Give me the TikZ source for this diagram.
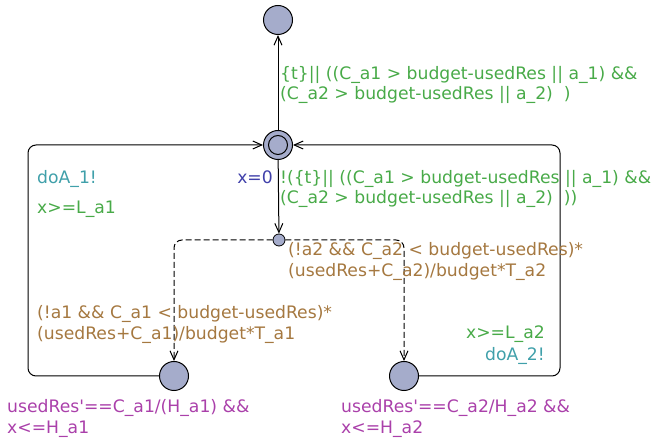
\documentclass[tikz,border=0pt]{standalone}
\usepackage{fontspec}
\setmainfont{DejaVu Sans}
\usetikzlibrary{arrows.meta}
\definecolor{locfill}{RGB}{165,172,203}
\definecolor{guardc}{RGB}{72,170,72}
\definecolor{syncc}{RGB}{64,160,170}
\definecolor{assignc}{RGB}{64,64,170}
\definecolor{probc}{RGB}{165,120,64}
\definecolor{invc}{RGB}{170,64,170}
\begin{document}
\begin{tikzpicture}[x=1pt,y=-1pt,
  loc/.style={circle,draw,fill=locfill,minimum size=29pt,inner sep=0pt,line width=1pt},
  inner/.style={circle,draw,minimum size=19pt,inner sep=0pt,line width=1pt},
  branchpt/.style={circle,draw,fill=locfill,minimum size=12pt,inner sep=0pt,line width=0.8pt},
  edge/.style={line width=1pt,-{Straight Barb[length=9pt,width=8pt]}},
  probedge/.style={edge,dash pattern=on 6pt off 3pt},
  lab/.style={anchor=base west,inner sep=0pt,font=\fontsize{17.2}{20}\selectfont},
  labr/.style={lab,anchor=base east}]
\useasboundingbox (0,0) rectangle (654,438);

% locations
\node[loc] (top) at (278,20) {};
\node[loc] (init) at (278,145) {};
\node[inner] (initin) at (278,145) {};
\node[branchpt] (br) at (279,240) {};
\node[loc] (l1) at (174,376) {};
\node[loc] (l2) at (404,376) {};
\coordinate (lc) at (28,145);
\coordinate (rc) at (560,145);

% edges
\draw[edge] (init) -- (top);
\draw[edge] (init) -- (br);
\draw[edge,rounded corners=8pt] (l1.west) -| (lc) -- (init.west);
\draw[edge,rounded corners=8pt] (l2.east) -| (rc) -- (init.east);
\draw[probedge,rounded corners=8pt] (br.west) -| (l1.north);
\draw[probedge,rounded corners=8pt] (br.east) -| (l2.north);

% labels
\node[lab,text=guardc] (g1a) at (280,80) {\{t\}|| ((C\_a1 > budget-usedRes || a\_1) \&\&};
\node[lab,text=guardc] (g1b) at (280,100) {(C\_a2 > budget-usedRes || a\_2)~ )};
\node[lab,text=guardc] (g2a) at (280,184) {!(\{t\}|| ((C\_a1 > budget-usedRes || a\_1) \&\&};
\node[lab,text=guardc] (g2b) at (280,204) {(C\_a2 > budget-usedRes || a\_2)~ ))};
\node[labr,text=assignc] (asg) at (273,184) {x=0};
\node[lab,text=syncc] (s1) at (37,184) {doA\_1!};
\node[lab,text=guardc] (g3) at (37,214) {x>=L\_a1};
\node[lab,text=probc] (p2a) at (288,256) {(!a2 \&\& C\_a2 < budget-usedRes)*};
\node[lab,text=probc] (p2b) at (288,277) {(usedRes+C\_a2)/budget*T\_a2};
\node[lab,text=probc] (p1a) at (37,319) {(!a1 \&\& C\_a1 < budget-usedRes)*};
\node[lab,text=probc] (p1b) at (37,340) {(usedRes+C\_a1)/budget*T\_a1};
\node[labr,text=guardc] (g4) at (545,339) {x>=L\_a2};
\node[labr,text=syncc] (s2) at (545,361) {doA\_2!};
\node[lab,text=invc] (i1a) at (7,413) {usedRes\textquotesingle==C\_a1/(H\_a1) \&\&};
\node[lab,text=invc] (i1b) at (7,434) {x<=H\_a1};
\node[lab,text=invc] (i2a) at (341,413) {usedRes\textquotesingle==C\_a2/H\_a2 \&\&};
\node[lab,text=invc] (i2b) at (341,434) {x<=H\_a2};
\end{tikzpicture}
\end{document}
